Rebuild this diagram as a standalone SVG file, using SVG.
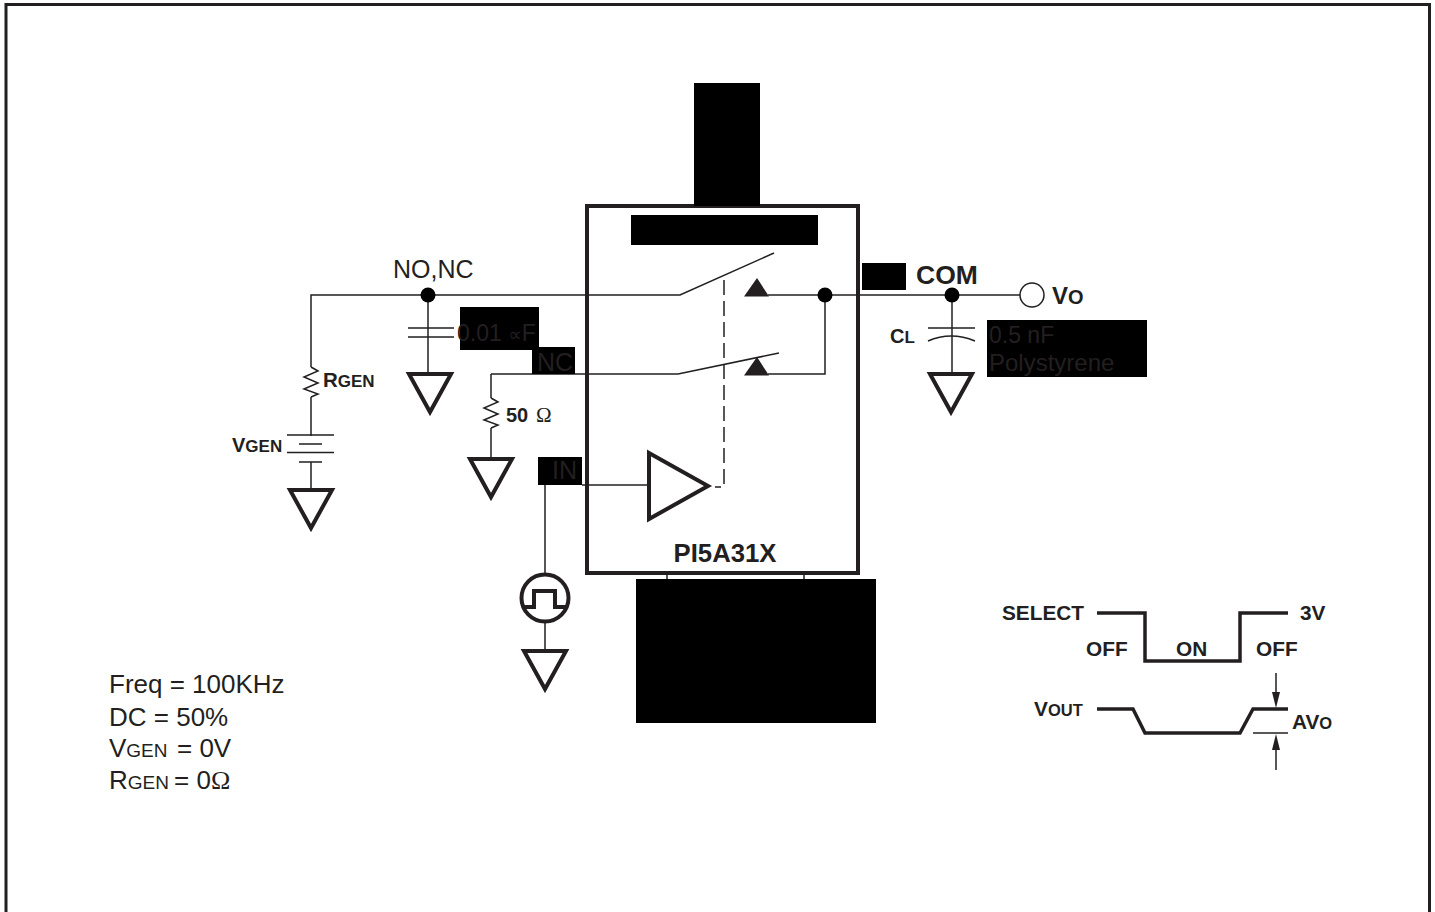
<svg xmlns="http://www.w3.org/2000/svg" width="1435" height="912" viewBox="0 0 1435 912">
<style>
text{font-family:"Liberation Sans",Arial,sans-serif;fill:#231f20}
.b{font-weight:bold}
.w{fill:none;stroke:#231f20;stroke-width:1.5}
.g{fill:#fff;stroke:#231f20;stroke-width:4}
.t{fill:none;stroke:#231f20;stroke-width:3.5}
.k{fill:#000}
.d{fill:#000}
.h{fill:#231f20}
</style>
<defs>
<path id="gnd" d="M-21 0H21L0 38Z" class="g"/>
<path id="res" d="M0 0L7 4L-7 10L7 16L-7 22L7 27L0 30" class="w"/>
</defs>
<rect width="1435" height="912" fill="#fff"/>
<rect x="6" y="4.500" width="1423.500" height="915" fill="none" stroke="#231f20" stroke-width="3"/>
<g id="connectors">
<path class="w" d="M311 367V295H680L774 253"/>
<path class="w" d="M428 295V374"/>
<path class="w" d="M408 328H454M408 337H454"/>
<path class="w" d="M311 397V436M311 462V490"/>
<path class="w" d="M287 435H334M299 444H322M287 452.500H334M299 462H322"/>
<path class="w" d="M491 374V398M491 428V459"/>
<path class="w" d="M491 374H678L779 353"/>
<path class="w" d="M768 295H1020"/>
<path class="w" d="M825 295V374H768"/>
<path class="w" d="M952 295V373"/>
<path class="w" d="M928 328H975M928 341Q951 331 975 341"/>
<path class="w" d="M545 485V575M545 620V650"/>
<path class="w" d="M582 485H648"/>
<path class="w" d="M724 280V487H715" stroke-dasharray="15 6"/>
<path class="w" d="M667 573V580M804 573V580"/>
<use href="#res" x="311" y="367"/>
<use href="#res" x="491" y="398"/>
</g>
<g id="ground-symbols">
<use href="#gnd" x="311" y="490"/>
<use href="#gnd" x="430" y="374"/>
<use href="#gnd" x="491" y="459"/>
<use href="#gnd" x="951" y="374"/>
<use href="#gnd" x="545" y="651"/>
</g>
<g id="switch-ic">
<rect x="587" y="206" width="271" height="367" fill="none" stroke="#231f20" stroke-width="4"/>
<rect class="k" x="694" y="83" width="66" height="123"/>
<rect class="k" x="631" y="215" width="187" height="30"/>
<path class="h" d="M744 296.500L757 278L769 296.500Z"/>
<path class="h" d="M744 375.500L757 357L769 375.500Z"/>
<path class="g" d="M649 453L708 486L649 519Z"/>
<text class="b" x="725" y="562" font-size="25.700" text-anchor="middle">PI5A31X</text>
</g>
<g id="dot-no"><circle class="d" cx="428" cy="295" r="7.500"/></g>
<g id="dot-sw"><circle class="d" cx="825" cy="295" r="7.500"/></g>
<g id="dot-com"><circle class="d" cx="952" cy="295" r="7.500"/></g>
<g id="vo"><circle cx="1032" cy="295" r="12" fill="#fff" stroke="#231f20" stroke-width="1.500"/>
<text class="b" x="1052" y="304" font-size="24">V<tspan font-size="20">O</tspan></text></g>
<g id="label-no"><text x="393" y="278" font-size="25">NO,NC</text></g>
<g id="label-com"><rect class="k" x="862" y="263" width="44" height="27"/><text class="b" x="916" y="284" font-size="26.500">COM</text></g>
<g id="label-cap1"><rect class="k" x="460" y="307" width="79" height="43"/><text x="457" y="341" font-size="23">0.01 <tspan font-family="'DejaVu Sans',sans-serif" font-size="19">∝</tspan>F</text></g>
<g id="label-nc"><rect class="k" x="532" y="347" width="43" height="27"/><text x="537" y="371" font-size="25">NC</text></g>
<g id="label-in"><rect class="k" x="538" y="457" width="44" height="28"/><text x="552" y="479" font-size="25">IN</text></g>
<g id="label-rgen"><text class="b" x="323" y="387" font-size="20.500">R<tspan font-size="17">GEN</tspan></text></g>
<g id="label-50"><text class="b" x="506" y="422" font-size="20">50<tspan x="536" font-size="21" font-family="'Liberation Serif',serif" font-weight="normal">Ω</tspan></text></g>
<g id="label-vgen"><text class="b" x="232" y="452" font-size="20">V<tspan font-size="17">GEN</tspan></text></g>
<g id="label-cl"><text class="b" x="890" y="343" font-size="20">C<tspan font-size="17">L</tspan></text></g>
<g id="label-cap2"><rect class="k" x="987" y="320" width="160" height="57"/><text x="989" y="343" font-size="23">0.5 nF</text><text x="989" y="371" font-size="24">Polystyrene</text></g>
<g id="pulse-source"><circle cx="545" cy="598" r="23.500" fill="#fff" stroke="#231f20" stroke-width="4"/><path fill="none" stroke="#231f20" stroke-width="4" d="M523 607H534V591H555V607H567"/></g>
<g id="bottom-block"><rect class="k" x="636" y="579" width="240" height="144"/></g>
<g id="notes">
<text x="109" y="693" font-size="26">Freq = 100KHz</text>
<text x="109" y="725.500" font-size="26">DC = 50%</text>
<text x="109" y="757" font-size="26">V<tspan font-size="19">GEN</tspan><tspan x="177">= 0V</tspan></text>
<text x="109" y="789" font-size="26">R<tspan font-size="19">GEN</tspan><tspan x="174">= 0</tspan><tspan font-family="'Liberation Serif',serif">Ω</tspan></text>
</g>
<g id="timing">
<path class="t" d="M1097 613H1145V661H1240V613H1288"/>
<path class="t" d="M1097 709H1133L1145 733H1240L1253 709H1288"/>
<path class="w" d="M1253 733H1288"/>
<path class="w" d="M1276 673V700M1276 745V770"/>
<path class="h" d="M1272 692H1280L1276 708Z"/>
<path class="h" d="M1272 750H1280L1276 734Z"/>
<text class="b" x="1002" y="620" font-size="20.800">SELECT</text>
<text class="b" x="1300" y="620" font-size="20.800">3V</text>
<text class="b" x="1086" y="656" font-size="20.800">OFF</text>
<text class="b" x="1176" y="656" font-size="20.800">ON</text>
<text class="b" x="1256" y="656" font-size="20.800">OFF</text>
<text class="b" x="1034" y="716" font-size="20.800">V<tspan font-size="16.500">OUT</tspan></text>
<text class="b" x="1292" y="729" font-size="20.800">AV<tspan font-size="16.500">O</tspan></text>
</g>
</svg>
